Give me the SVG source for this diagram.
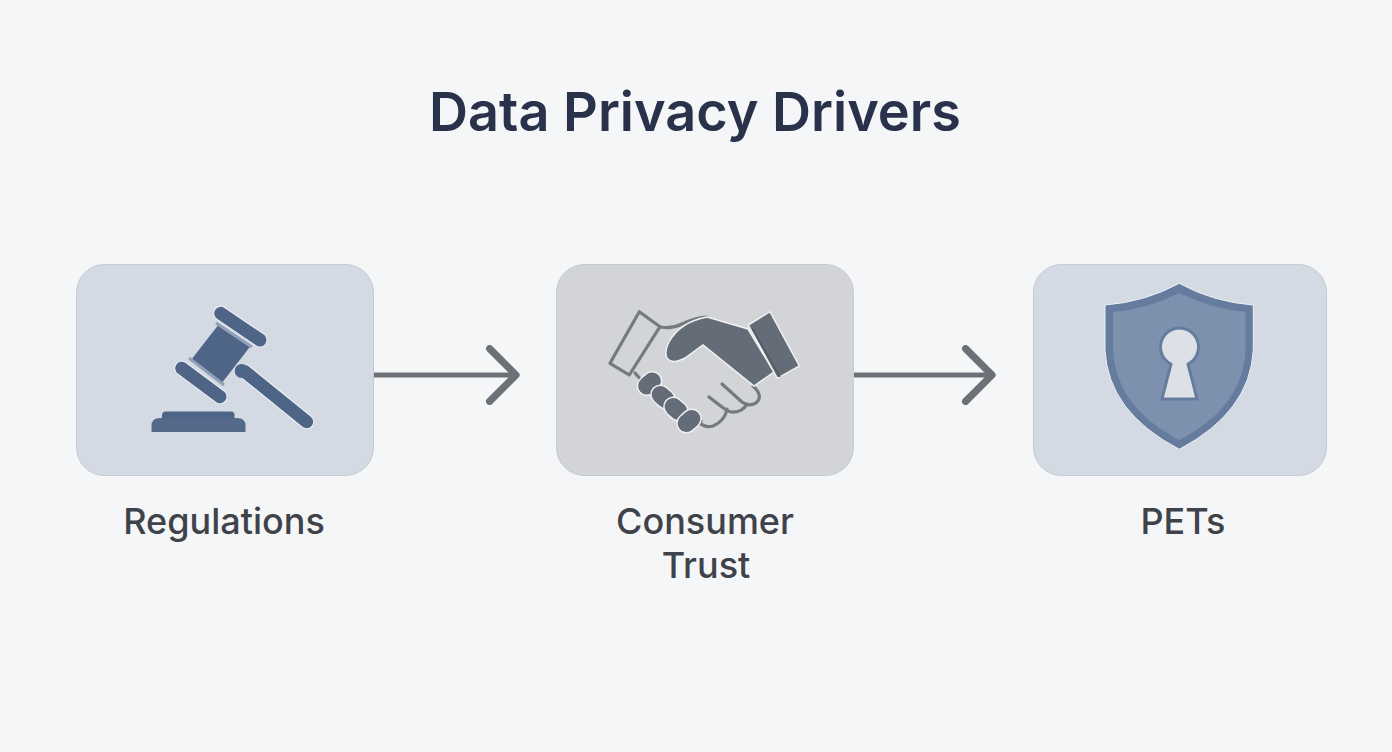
<svg xmlns="http://www.w3.org/2000/svg" width="1392" height="752" viewBox="0 0 1392 752">
<style>
text{font-family:Inter,"Liberation Sans",sans-serif;text-anchor:middle}
.title{font-size:54px;font-weight:600;fill:#29324a}
.label{font-size:36px;font-weight:500;fill:#3f4349}
.card{stroke:#c6cad1;stroke-width:1}
.slate{fill:#4f6587}
.cap{fill:none;stroke:#4f6587;stroke-linecap:round}
.halo{fill:none;stroke:#eef1f5;stroke-linecap:round}
.conn{fill:none;stroke:#6d7076;stroke-width:5;stroke-linecap:round;stroke-linejoin:round}
.hand{fill:#646d77;stroke:#f0f1f2;stroke-width:1.5}
.wire{fill:none;stroke:#747a80;stroke-width:3.2;stroke-linecap:round;stroke-linejoin:round}
</style>
<defs>
<marker id="chev" markerUnits="userSpaceOnUse" markerWidth="40" markerHeight="60" refX="25" refY="25" viewBox="0 0 30 50" orient="auto">
<path d="M3 3L25 25L3 47" fill="none" stroke="#6d7076" stroke-width="6" stroke-linecap="round" stroke-linejoin="round"/>
</marker>
</defs>
<rect width="1392" height="752" fill="#f5f6f8"/>
<text id="title" class="title" x="695" y="131">Data Privacy Drivers</text>
<g id="connectors">
<path class="conn" d="M374 375H516" marker-end="url(#chev)"/>
<path class="conn" d="M855 375H992" marker-end="url(#chev)"/>
</g>
<g id="regulations">
<rect class="card" x="76.500" y="264.500" width="297" height="211" rx="28" fill="#d4dae3"/>
<path class="halo" stroke-width="15" d="M220.700 313.300L260 340M181.700 368.300L220 396.700M245 371.700L306.700 421.700"/>
<path class="slate" d="M218.300 325L250 346.700L221.700 383.300L191 360Z"/>
<path d="M216 323L252 347M189 358L224 385" stroke="#8fa0b8" stroke-width="3" fill="none"/>
<path class="cap" stroke-width="13" d="M220.700 313.300L260 340M181.700 368.300L220 396.700M245 371.700L306.700 421.700"/>
<circle class="slate" cx="241.700" cy="371" r="7"/>
<path class="slate" d="M162 419V415Q162 411.500 166 411.500H231Q234.500 411.500 234.500 415V419Z"/>
<path class="slate" d="M151.500 432V426Q151.500 418 160 418H237Q245.500 418 245.500 426V432Z" fill-opacity=".96"/>
<text class="label" x="224" y="534">Regulations</text>
</g>
<g id="consumer-trust">
<rect class="card" x="556.500" y="264.500" width="297" height="211" rx="28" fill="#d3d4d7"/>
<path class="wire" d="M639.300 311.700L660 326.700L629.300 375L610 363.300Z" fill="#d3d4d7"/>
<path class="wire" d="M661 327Q672 329 682 324Q697 317 707 317"/>
<path class="wire" d="M635 373L642 381"/>
<path class="wire" d="M753 386Q764 396 756 403Q748 407 742 402L722 384M747 404Q742 413 731 412Q727 411 722 407L709 397M727 409Q725 421 713 426Q705 428 700 423L701 421"/>
<path class="hand" d="M707 317L748 329L774 372L754 386L703 345L685 358Q672 365 667 358Q664 352 669 342Q680 322 707 317Z"/>
<path class="hand" d="M748.300 325L770 311.700L799.300 366L777.300 378.300Z"/>
<path d="M752 328L780 377" stroke="#53585f" stroke-width="1.500" fill="none"/>
<g class="hand">
<rect x="-13" y="-9.500" width="26" height="19" rx="9.500" transform="translate(649.500 383.500) rotate(-42)"/>
<rect x="-13" y="-9.500" width="26" height="19" rx="9.500" transform="translate(663 397) rotate(42)"/>
<rect x="-13" y="-9.500" width="26" height="19" rx="9.500" transform="translate(676 409) rotate(42)"/>
<rect x="-13" y="-9.500" width="26" height="19" rx="9.500" transform="translate(689 421) rotate(-42)"/>
</g>
<text class="label" x="705" y="534">Consumer</text>
<text class="label" x="706" y="578">Trust</text>
</g>
<g id="pets">
<rect class="card" x="1033.500" y="264.500" width="293" height="211" rx="28" fill="#d4dae3"/>
<path d="M1179.300 283.300Q1145 302 1105 305V350Q1108 412 1179.300 449.300Q1250 412 1253.300 350V305Q1213 302 1179.300 283.300Z" fill="#667c9f" stroke="#eef2f6" stroke-width="1"/>
<path d="M1179.300 293Q1147 309 1113 312V350Q1116 407 1179.300 440Q1243 407 1245.500 350V312Q1212 309 1179.300 293Z" fill="#7d91ae"/>
<path d="M1171 364A19 19 0 1 1 1188 364L1197 399H1162Z" fill="#dde1e7" stroke="#667c9f" stroke-width="3" stroke-linejoin="round"/>
<text class="label" x="1183" y="534">PETs</text>
</g>
</svg>
